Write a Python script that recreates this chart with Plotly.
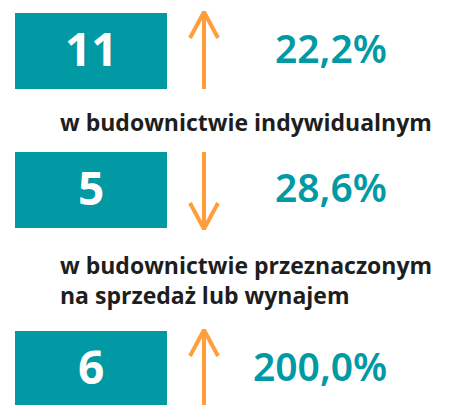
import plotly.graph_objects as go

# ---- data ----
values = [11, 5, 6]
changes = [22.2, 28.6, 200.0]
directions = ["up", "down", "up"]
labels = ["w budownictwie indywidualnym",
          "w budownictwie przeznaczonym<br>na sprzedaż lub wynajem"]

# ---- styling / layout constants ----
W, H = 449, 405
OFF = 8  # page body margin
TEAL = "#0099A4"
ORANGE = "#FF9E3B"
DARK = "#1E1E1E"
FONT = "Open Sans"
PFONT = "Noto Sans"
row_top = [13, 152, 331]
box_h = 76
box_x0, box_x1 = 15, 167
arrow_x = 204
head_dx, head_dy = 14, 26
pct_right = 389
label_x = 58
label_y = [122, 280]

fig = go.Figure()

def fmt(v):
    return f"{v:.1f}".replace(".", ",") + "%"

for i, (v, c, d) in enumerate(zip(values, changes, directions)):
    y0 = row_top[i]
    y1 = y0 + box_h
    yc = (y0 + y1) / 2
    fig.add_shape(type="rect", x0=box_x0, x1=box_x1, y0=y0, y1=y1,
                  xref="x", yref="y", fillcolor=TEAL, line_width=0, layer="below")
    fig.add_annotation(x=(box_x0 + box_x1) / 2, y=yc - 3, text=f"<b>{v}</b>",
                       showarrow=False, xanchor="center", yanchor="middle",
                       font=dict(family=FONT, size=46, color="white"))
    fig.add_annotation(x=pct_right, y=yc - 4, text=fmt(c),
                       showarrow=False, xanchor="right", yanchor="middle",
                       font=dict(family=PFONT, size=39, color=TEAL, weight=600))
    if d == "up":
        tip, tail = y0 - 1, y1
        hy = tip + head_dy
    else:
        tip, tail = y1 + 1, y0
        hy = tip - head_dy
    xs = [arrow_x, arrow_x, None, arrow_x - head_dx, arrow_x, arrow_x + head_dx]
    ys = [tail, tip, None, hy, tip, hy]
    fig.add_trace(go.Scatter(x=xs, y=ys, mode="lines",
                             line=dict(color=ORANGE, width=4),
                             hoverinfo="skip", showlegend=False))

for i, lab in enumerate(labels):
    fig.add_annotation(x=label_x, y=label_y[i], text=f"<b>{lab}</b>",
                       showarrow=False, xanchor="left", yanchor="middle", align="left",
                       font=dict(family=FONT, size=23, color=DARK))

fig.update_layout(
    width=W - OFF, height=H - OFF,
    margin=dict(l=0, r=0, t=0, b=0),
    paper_bgcolor="white", plot_bgcolor="white",
    xaxis=dict(range=[OFF, W], visible=False, fixedrange=True),
    yaxis=dict(range=[H, OFF], visible=False, fixedrange=True),
    showlegend=False,
)

fig.write_html("out.html")
